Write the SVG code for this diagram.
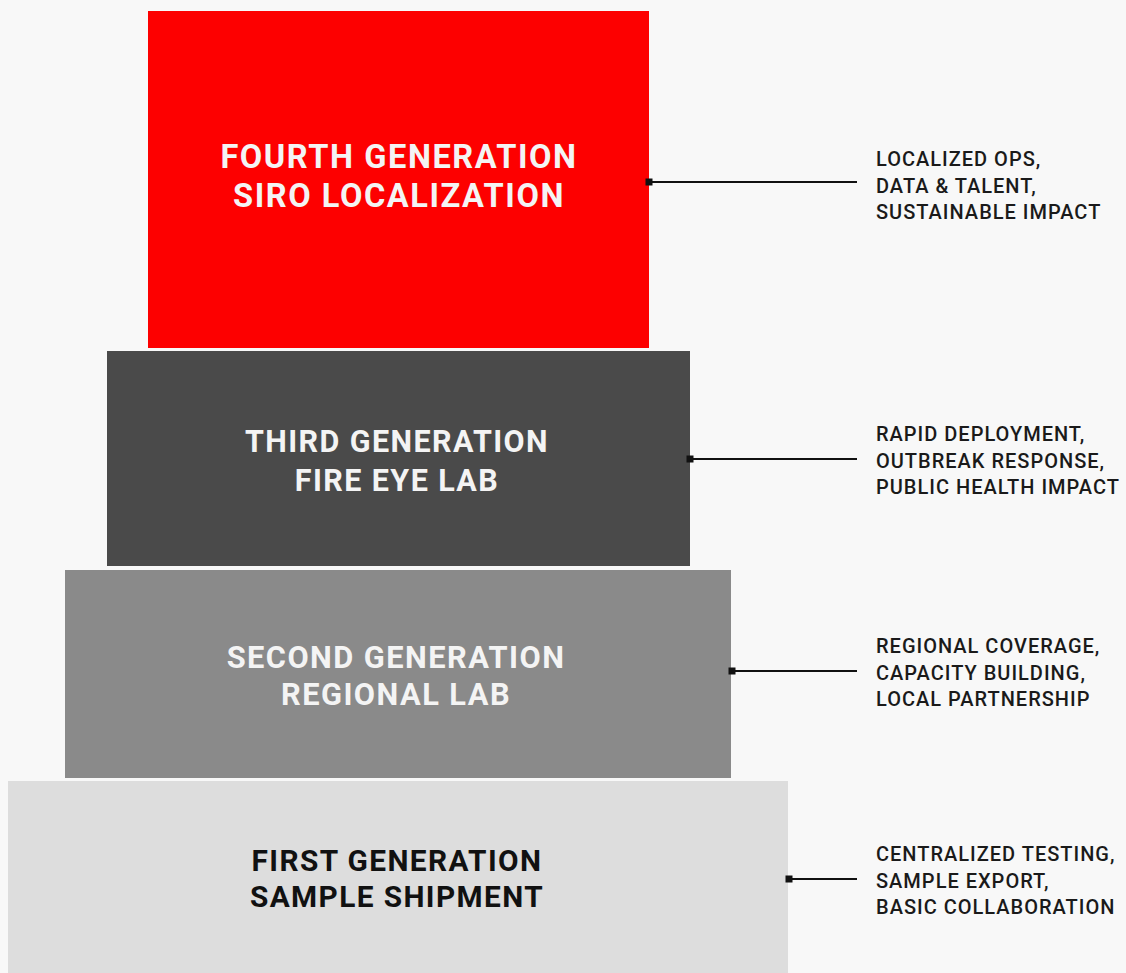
<svg xmlns="http://www.w3.org/2000/svg" width="1126" height="973" viewBox="0 0 1126 973">
<defs>
<style>
.title{font-family:Roboto,"Liberation Sans",sans-serif;font-weight:700;text-anchor:middle}
.t4{font-size:32.6px;letter-spacing:1.55px}
.t3{font-size:30.5px;letter-spacing:1.4px}
.t2{font-size:30.8px;letter-spacing:1.45px}
.t1{font-size:29.8px;letter-spacing:1.4px}
.light{fill:#f4f4f4}
.dark{fill:#111111}
.note{font-family:Roboto,"Liberation Sans",sans-serif;font-weight:500;font-size:20px;letter-spacing:1px;fill:#1a1a1a}
.conn{stroke:#111;stroke-width:2;fill:none}
.dot{fill:#111}
</style>
</defs>
<rect x="0" y="0" width="1126" height="973" fill="#f8f8f8"/>
<g id="node-fourth">
<rect x="148" y="11" width="501" height="337" fill="#fd0000"/>
<text class="title t4 light" x="399" y="168">FOURTH GENERATION</text>
<text class="title t4 light" x="399" y="207">SIRO LOCALIZATION</text>
</g>
<g id="node-third">
<rect x="107" y="351" width="583" height="215" fill="#4a4a4a"/>
<text class="title t3 light" x="397" y="452">THIRD GENERATION</text>
<text class="title t3 light" x="397" y="491">FIRE EYE LAB</text>
</g>
<g id="node-second">
<rect x="65" y="570" width="666" height="208" fill="#8a8a8a"/>
<text class="title t2 light" x="396" y="668">SECOND GENERATION</text>
<text class="title t2 light" x="396" y="705">REGIONAL LAB</text>
</g>
<g id="node-first">
<rect x="8" y="781" width="780" height="192" fill="#dddddd"/>
<text class="title t1 dark" x="397" y="871">FIRST GENERATION</text>
<text class="title t1 dark" x="397" y="907">SAMPLE SHIPMENT</text>
</g>
<g id="connectors">
<line class="conn" x1="649" y1="182" x2="857" y2="182"/>
<rect class="dot" x="645.5" y="178.5" width="7" height="7"/>
<line class="conn" x1="690" y1="459" x2="857" y2="459"/>
<rect class="dot" x="686.5" y="455.5" width="7" height="7"/>
<line class="conn" x1="732" y1="671" x2="857" y2="671"/>
<rect class="dot" x="728.5" y="667.5" width="7" height="7"/>
<line class="conn" x1="789" y1="879" x2="857" y2="879"/>
<rect class="dot" x="785.5" y="875.5" width="7" height="7"/>
</g>
<g id="notes">
<text class="note" x="876" y="166">LOCALIZED OPS,</text>
<text class="note" x="876" y="192.5">DATA &amp; TALENT,</text>
<text class="note" x="876" y="219">SUSTAINABLE IMPACT</text>
<text class="note" x="876" y="441">RAPID DEPLOYMENT,</text>
<text class="note" x="876" y="467.5">OUTBREAK RESPONSE,</text>
<text class="note" x="876" y="494">PUBLIC HEALTH IMPACT</text>
<text class="note" x="876" y="653">REGIONAL COVERAGE,</text>
<text class="note" x="876" y="679.5">CAPACITY BUILDING,</text>
<text class="note" x="876" y="706">LOCAL PARTNERSHIP</text>
<text class="note" x="876" y="861">CENTRALIZED TESTING,</text>
<text class="note" x="876" y="887.5">SAMPLE EXPORT,</text>
<text class="note" x="876" y="914">BASIC COLLABORATION</text>
</g>
</svg>
